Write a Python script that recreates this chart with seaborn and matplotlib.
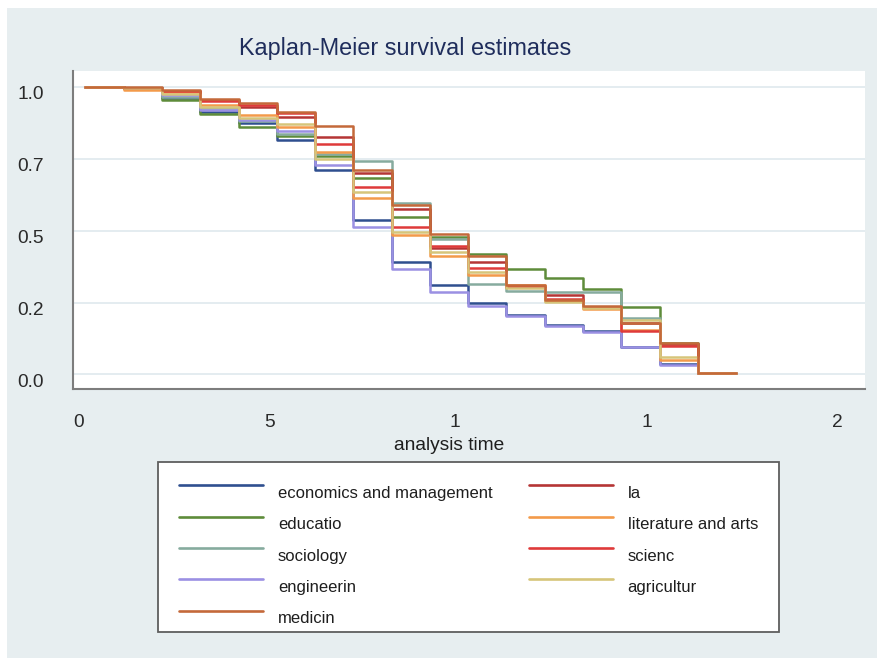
import numpy as np
import pandas as pd
import matplotlib
matplotlib.use("Agg")
import matplotlib.pyplot as plt
import matplotlib.transforms as mtransforms
from matplotlib.patches import Rectangle
import seaborn as sns

# ---------------- data ----------------
time = [0, 1, 2, 3, 4, 5, 6, 7, 8, 9, 10, 11, 12, 13, 14, 15, 16, 17]

econ = [1.0, 0.997, 0.96, 0.912, 0.875, 0.815, 0.71, 0.537, 0.392, 0.31, 0.247, 0.206, 0.171, 0.152, 0.097, 0.035, 0.005, 0.005]
educ = [1.0, 0.997, 0.955, 0.905, 0.861, 0.828, 0.76, 0.681, 0.548, 0.478, 0.418, 0.367, 0.334, 0.297, 0.233, 0.11, 0.005, 0.005]
soci = [1.0, 0.997, 0.965, 0.925, 0.88, 0.835, 0.765, 0.742, 0.595, 0.472, 0.313, 0.29, 0.287, 0.285, 0.198, 0.105, 0.005, 0.005]
engi = [1.0, 0.997, 0.97, 0.92, 0.885, 0.845, 0.728, 0.513, 0.366, 0.287, 0.239, 0.203, 0.168, 0.148, 0.094, 0.032, 0.005, 0.005]
medi = [1.0, 1.0, 0.99, 0.958, 0.942, 0.913, 0.862, 0.71, 0.59, 0.488, 0.41, 0.31, 0.26, 0.237, 0.18, 0.108, 0.005, 0.005]
law = [1.0, 0.997, 0.985, 0.955, 0.93, 0.896, 0.826, 0.70, 0.575, 0.438, 0.39, 0.305, 0.275, 0.235, 0.18, 0.105, 0.005, 0.005]
lite = [1.0, 0.99, 0.98, 0.937, 0.90, 0.861, 0.774, 0.614, 0.485, 0.412, 0.345, 0.31, 0.255, 0.228, 0.155, 0.05, 0.005, 0.005]
scie = [1.0, 0.997, 0.985, 0.95, 0.935, 0.91, 0.80, 0.652, 0.513, 0.445, 0.371, 0.305, 0.264, 0.235, 0.152, 0.10, 0.005, 0.005]
agri = [1.0, 0.997, 0.975, 0.93, 0.89, 0.87, 0.748, 0.635, 0.495, 0.425, 0.355, 0.30, 0.252, 0.232, 0.19, 0.061, 0.005, 0.005]

groups = ["economics and management", "educatio", "sociology", "engineerin", "medicin",
          "la", "literature and arts", "scienc", "agricultur"]
series = [econ, educ, soci, engi, medi, law, lite, scie, agri]

yticks = [0.0, 0.25, 0.5, 0.75, 1.0]
ytick_labels = ["0.0", "0.2", "0.5", "0.7", "1.0"]
xticks = [0, 5, 10, 15, 20]
xtick_labels = ["0", "5", "1", "1", "2"]

title = "Kaplan-Meier survival estimates"
xlabel = "analysis time"

# ---------------- style ----------------
colors = ["#2f4f8f", "#5e8c3a", "#86ab9e", "#9b90e3", "#c4693a",
          "#b53535", "#f39a4a", "#df3a3a", "#d6c57a"]
bg = "#e7eef0"
txt = "#2a2a2a"

sns.set_style("white")
plt.rcParams["font.family"] = ["Liberation Sans", "DejaVu Sans"]

rows = []
for g, s in zip(groups, series):
    for t, v in zip(time, s):
        rows.append({"time": t, "survival": v, "group": g})
df = pd.DataFrame(rows)

W, H = 878, 658
fig = plt.figure(figsize=(W / 100, H / 100), dpi=100)
fig.patch.set_facecolor("white")
fig.add_artist(Rectangle((7 / W, 0), 1 - 7 / W, 1 - 8 / H, transform=fig.transFigure,
                         facecolor=bg, edgecolor="none", zorder=0))

ax_l, ax_r, ax_t, ax_b = 72.7, 865, 71, 389
ax = fig.add_axes([ax_l / W, 1 - ax_b / H, (ax_r - ax_l) / W, (ax_b - ax_t) / H])
ax.set_facecolor("white")

sns.lineplot(data=df, x="time", y="survival", hue="group", hue_order=groups,
             palette=colors, drawstyle="steps-post", linewidth=1.8,
             estimator=None, errorbar=None, ax=ax)
# medicin drawn on top
for i, line in enumerate(ax.lines[:len(groups)]):
    line.set_zorder(3 if groups[i] == "medicin" else 2)

ax.set_xlim(-0.334, 20.37)
ax.set_ylim(-0.0504, 1.0545)

ax.set_yticks(yticks)
ax.set_yticklabels(ytick_labels)
ax.set_xticks(xticks)
ax.set_xticklabels(xtick_labels)

ax.yaxis.grid(True, color="#e2ebef", linewidth=1.3)
ax.xaxis.grid(False)
for sp in ["top", "right"]:
    ax.spines[sp].set_visible(False)
for sp in ["left", "bottom"]:
    ax.spines[sp].set_color("#7d7d7d")
    ax.spines[sp].set_linewidth(1.5)

ax.tick_params(axis="both", direction="out", length=6.5, width=1.3, color="#7d7d7d",
               labelsize=13.8, labelcolor=txt)
ax.tick_params(axis="y", pad=14.4)
ax.tick_params(axis="x", pad=11.5)

# offsets of tick labels (px)
x_off = [-7, -7, -13, -13, -13]
for lab, dx in zip(ax.get_xticklabels(), x_off):
    lab.set_transform(lab.get_transform() + mtransforms.ScaledTranslation(dx / 100, 0, fig.dpi_scale_trans))
for lab in ax.get_yticklabels():
    lab.set_transform(lab.get_transform() + mtransforms.ScaledTranslation(0, -6 / 100, fig.dpi_scale_trans))

ax.set_xlabel(xlabel, fontsize=13.8, color="#1e1e1e")
ax.set_ylabel("")
ax.xaxis.set_label_coords((449 - ax_l) / (ax_r - ax_l), -(445 - ax_b) / (ax_b - ax_t))
ax.xaxis.label.set_va("center")

fig.text(405 / W, 1 - 49 / H, title, ha="center", va="center", fontsize=16.8, color="#1f2d5c")

# legend
handles, labels = ax.get_legend_handles_labels()
if ax.get_legend() is not None:
    ax.get_legend().remove()
fig.add_artist(Rectangle((158 / W, 1 - 632 / H), 621 / W, 170 / H, transform=fig.transFigure,
                         facecolor="white", edgecolor="#5e5e5e", linewidth=1.3, zorder=1))
leg = fig.legend(handles, labels, ncol=2, loc="upper left",
                 bbox_to_anchor=(179 / W, 1 - 486 / H), frameon=False,
                 fontsize=12, handlelength=5.04, handletextpad=0.9, columnspacing=2.16,
                 labelspacing=0.98, borderpad=0, borderaxespad=0)
leg.set_zorder(5)
for t in leg.get_texts():
    t.set_color("#1e1e1e")
for l in leg.get_lines():
    l.set_linewidth(1.9)
    l.set_ydata(np.asarray(l.get_ydata()) + 5)

fig.savefig("out.png", dpi=100, facecolor=fig.get_facecolor())
